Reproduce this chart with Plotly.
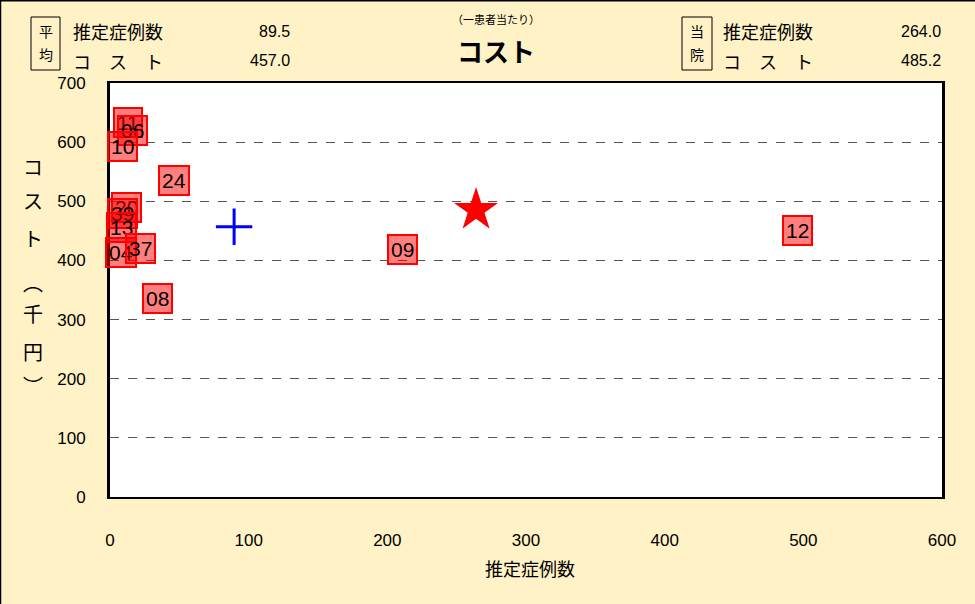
import plotly.graph_objects as go

# Data
hosp_labels = ["11", "06", "10", "24", "20", "39", "13", "04", "37", "08", "09", "12"]
hosp_cases = [13, 16, 9, 46, 12, 9, 8, 8, 22, 34, 211, 496]
hosp_cost = [634, 619, 592, 535, 489, 480, 455, 413, 420, 335, 418, 450]

avg_cases = 89.5
avg_cost = 457.0
own_cases = 264.0
own_cost = 485.2

x_ticks = [0, 100, 200, 300, 400, 500, 600]
y_ticks = [0, 100, 200, 300, 400, 500, 600, 700]

W, H = 975, 604
ML, MR, MT, MB = 110, 33, 83, 107
PW, PH = W - ML - MR, H - MT - MB

def px(x):
    return (x - ML) / PW

def py(y):
    return (H - MB - y) / PH

FONT = "Noto Sans CJK JP"
BG = "#FFF2C6"

fig = go.Figure()

# average (cross)
fig.add_trace(go.Scatter(x=[avg_cases], y=[avg_cost], mode="markers",
                         marker=dict(symbol="cross-thin", size=26, line=dict(color="#0000FF", width=3)),
                         hoverinfo="skip", showlegend=False))
# own hospital (star)
fig.add_trace(go.Scatter(x=[own_cases], y=[own_cost], mode="markers",
                         marker=dict(symbol="star", size=33, color="#FF0000", line=dict(width=0)),
                         hoverinfo="skip", showlegend=False))

annotations = []
for lab, xc, yc in zip(hosp_labels, hosp_cases, hosp_cost):
    annotations.append(dict(x=xc, y=yc, xref="x", yref="y", text=lab, showarrow=False,
                            font=dict(family="Liberation Sans", size=21, color="black"),
                            bgcolor="rgba(255,0,0,0.5)", bordercolor="#FF0000", borderwidth=2,
                            borderpad=2))

# Header texts
def txt(x, y, text, size=16, anchor="left", bold=False, family=FONT):
    if bold:
        text = "<b>" + text + "</b>"
    annotations.append(dict(x=px(x), y=py(y), xref="paper", yref="paper", text=text,
                            showarrow=False, xanchor=anchor, yanchor="middle",
                            font=dict(family=family, size=size, color="black")))

txt(71, 31, "推定症例数", 18)
txt(71, 61, "コ　ス　ト", 18)
txt(292, 31, "89.5", 16, "right", family="Liberation Sans")
txt(292, 61, "457.0", 16, "right", family="Liberation Sans")
txt(721, 31, "推定症例数", 18)
txt(721, 61, "コ　ス　ト", 18)
txt(943, 31, "264.0", 16, "right", family="Liberation Sans")
txt(943, 61, "485.2", 16, "right", family="Liberation Sans")
txt(46, 31, "平", 14, "center")
txt(46, 54, "均", 14, "center")
txt(697, 31, "当", 14, "center")
txt(697, 54, "院", 14, "center")
txt(496, 19, "（一患者当たり）", 11, "center")
txt(496, 50, "コスト", 26, "center", bold=True)
txt(530, 568, "推定症例数", 18, "center")
ytitle_chars = ["コ", "ス", "ト", "︵", "千", "円", "︶"]
ytitle_pos = [166, 200, 238, 282, 313, 351, 386]
for ch, yy in zip(ytitle_chars, ytitle_pos):
    txt(33, yy, ch, 20, "center")

shapes = [
    dict(type="rect", xref="paper", yref="paper", x0=px(31), x1=px(60), y0=py(17), y1=py(70),
         line=dict(color="black", width=1)),
    dict(type="rect", xref="paper", yref="paper", x0=px(682), x1=px(712), y0=py(17), y1=py(70),
         line=dict(color="black", width=1)),
    dict(type="rect", xref="paper", yref="paper", x0=px(0.5), x1=px(W + 2), y0=py(0.75), y1=py(H + 2),
         line=dict(color="black", width=1.5), layer="below"),
]

fig.update_layout(
    width=W, height=H,
    margin=dict(l=ML, r=MR, t=MT, b=MB),
    paper_bgcolor=BG, plot_bgcolor="white",
    font=dict(family=FONT, size=16, color="black"),
    showlegend=False,
    annotations=annotations,
    shapes=shapes,
    xaxis=dict(range=[0, 600], tickvals=x_ticks, ticktext=[str(v) for v in x_ticks],
               showgrid=False, zeroline=False, showline=True, linecolor="black", linewidth=2,
               mirror=True, ticks="", ticklabelstandoff=27,
               tickfont=dict(family="Liberation Sans", size=17)),
    yaxis=dict(range=[0, 700], tickvals=y_ticks, ticktext=[str(v) for v in y_ticks],
               showgrid=True, gridcolor="#555555", griddash="dash", gridwidth=1,
               zeroline=False, showline=True, linecolor="black", linewidth=3,
               mirror=True, ticks="", ticklabelstandoff=18,
               tickfont=dict(family="Liberation Sans", size=17)),
)

fig.write_html("out.html", config={"displayModeBar": False},
               post_script="document.body.style.margin='0';document.body.style.overflow='hidden';")
